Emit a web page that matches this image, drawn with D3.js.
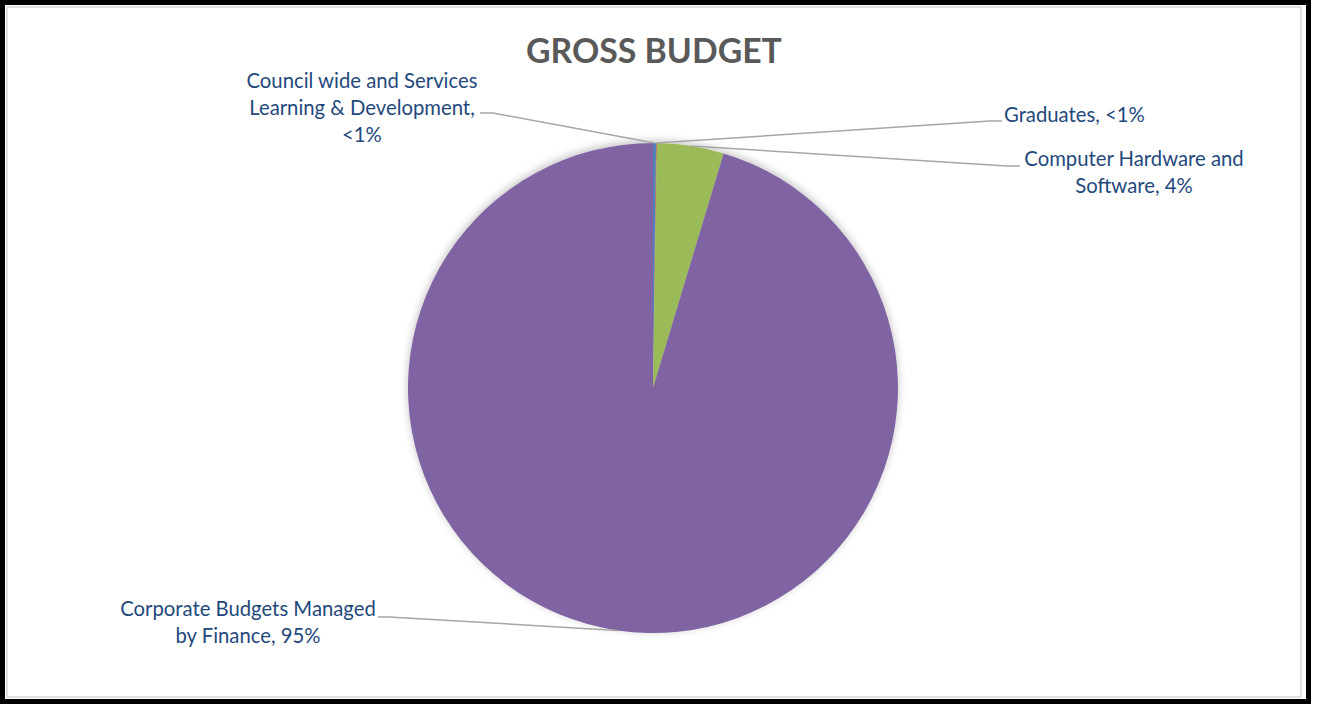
<!DOCTYPE html>
<html>
<head>
<meta charset="utf-8">
<script src="https://cdn.jsdelivr.net/npm/d3@7/dist/d3.min.js"></script>
<style>
  html, body { margin: 0; padding: 0; background: #fff; }
  svg { display: block; }
</style>
</head>
<body>
<svg id="chart" width="1318" height="704"></svg>
<script>
// Gross budget split by area (share of total, %)
const categories = [
  "Council wide and Services Learning & Development",
  "Graduates",
  "Computer Hardware and Software",
  "Corporate Budgets Managed by Finance"
];
const values = [0.2, 0.05, 4.4, 95.35];
const valueLabels = ["<1%", "<1%", "4%", "95%"];
const colors = ["#4F81BD", "#C0504D", "#9BBB59", "#8064A2"];
const title = "GROSS BUDGET";

const svg = d3.select("#chart");

// outer frame
svg.append("rect").attr("x", 2.5).attr("y", 2.5).attr("width", 1306).attr("height", 699)
  .attr("fill", "#fff").attr("stroke", "#000").attr("stroke-width", 5);
svg.append("rect").attr("x", 7).attr("y", 7).attr("width", 1294).attr("height", 690)
  .attr("fill", "#fff").attr("stroke", "#d9d9d9").attr("stroke-width", 1.5);

svg.append("text")
  .attr("x", 654).attr("y", 63)
  .attr("text-anchor", "middle")
  .attr("font-family", "Lato, 'Open Sans', sans-serif")
  .attr("font-weight", "bold")
  .attr("font-size", 33.8)
  .attr("fill", "#595959")
  .text(title);

const cx = 653, cy = 388, R = 245;
const data = categories.map((c, i) => ({ name: c, value: values[i], label: valueLabels[i], color: colors[i] }));

const pie = d3.pie().sort(null).value(d => d.value).startAngle(0).endAngle(2 * Math.PI);
const arcs = pie(data);
const arc = d3.arc().innerRadius(0).outerRadius(R);

// soft shadow around the pie
const defs = svg.append("defs");
const f = defs.append("filter").attr("id", "soft").attr("x", "-10%").attr("y", "-10%").attr("width", "120%").attr("height", "120%");
f.append("feGaussianBlur").attr("in", "SourceAlpha").attr("stdDeviation", 4);
f.append("feOffset").attr("dx", 0).attr("dy", -2).attr("result", "b");
f.append("feComponentTransfer").append("feFuncA").attr("type", "linear").attr("slope", 0.25);
const m = f.append("feMerge");
m.append("feMergeNode");
m.append("feMergeNode").attr("in", "SourceGraphic");

const g = svg.append("g").attr("transform", `translate(${cx},${cy})`).attr("filter", "url(#soft)");
g.selectAll("path").data(arcs).enter().append("path")
  .attr("d", arc)
  .attr("fill", d => d.data.color);

// label layout: text lines, anchor point of text block, leader elbow
const layout = [
  { lines: ["Council wide and Services", "Learning & Development,", "<1%"], x: 362, y: 88, anchor: "middle",
    elbow: [[480, 113], [493, 113]] },
  { lines: ["Graduates, <1%"], x: 1004, y: 122, anchor: "start",
    elbow: [[1002, 121], [990, 121]] },
  { lines: ["Computer Hardware and", "Software, 4%"], x: 1134, y: 166, anchor: "middle",
    elbow: [[1020, 166], [1007, 166]] },
  { lines: ["Corporate Budgets Managed", "by Finance, 95%"], x: 248, y: 616, anchor: "middle",
    elbow: [[378, 617], [389, 617]] }
];

const edge = d => {
  const a = (d.startAngle + d.endAngle) / 2;
  return [cx + R * Math.sin(a), cy - R * Math.cos(a)];
};

arcs.forEach((d, i) => {
  const L = layout[i];
  const p = edge(d);
  svg.append("path")
    .attr("d", d3.line()([L.elbow[0], L.elbow[1], p]))
    .attr("fill", "none")
    .attr("stroke", "#a6a6a6")
    .attr("stroke-width", 1.5);
  const t = svg.append("text")
    .attr("font-family", "Lato, 'Open Sans', sans-serif")
    .attr("font-size", 20.3)
    .attr("fill", "#1F497D")
    .attr("text-anchor", L.anchor);
  L.lines.forEach((ln, k) => {
    t.append("tspan").attr("x", L.x).attr("y", L.y + k * 27).text(ln);
  });
});
</script>
</body>
</html>
